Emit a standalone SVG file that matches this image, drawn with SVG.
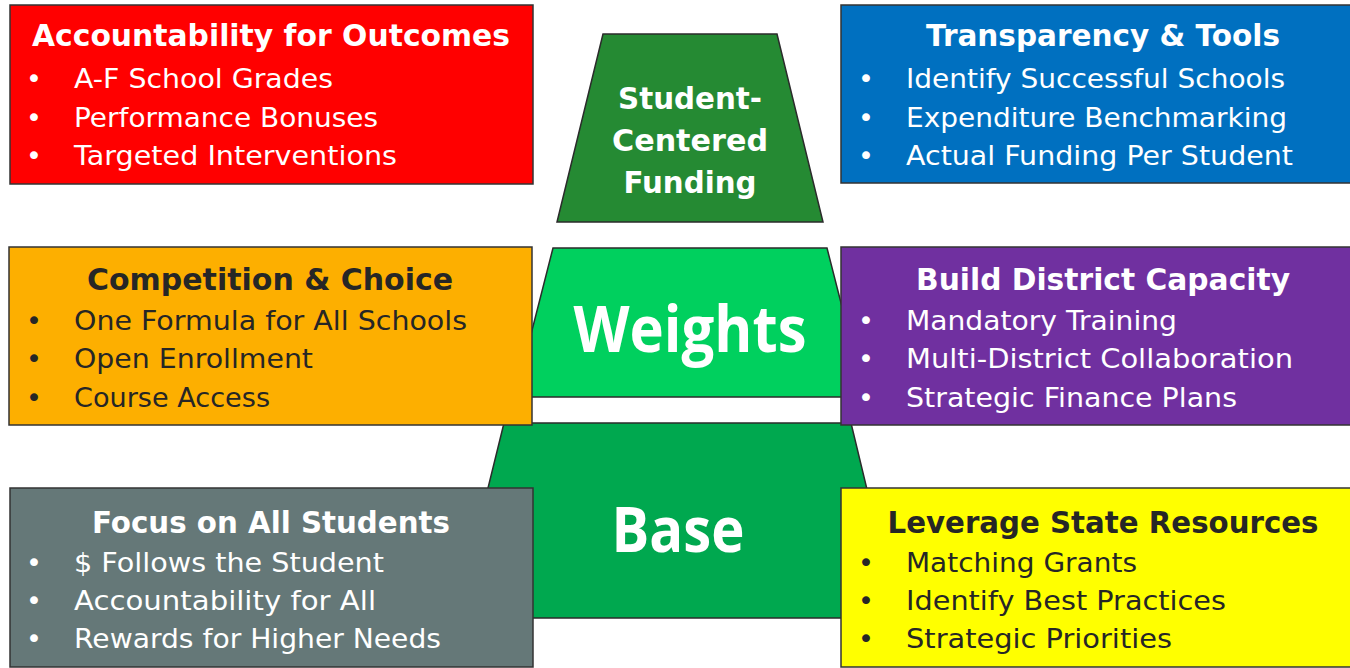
<svg xmlns="http://www.w3.org/2000/svg" width="1350" height="668" viewBox="0 0 1350 668">
<style>
.box{stroke:#333;stroke-width:1.5}
.trap{stroke:#2b2b2b;stroke-width:1.5}
text{font-family:"DejaVu Sans","Liberation Sans",sans-serif}
.h{font-size:30px;font-weight:bold;text-anchor:middle}
.b{font-size:27px}
.bu{font-size:27px;text-anchor:middle}
.c{font-weight:bold;fill:#fff;text-anchor:middle}
.big{font-family:"Open Sans","DejaVu Sans",sans-serif}
.w{fill:#fff}
.d{fill:#262626}
</style>
<rect width="1350" height="668" fill="#fff"/>
<g id="connectors"></g>
<g id="student-centered-funding">
<polygon class="trap" points="603,34 777,34 823,222 557,222" fill="#258A33"/>
<text class="c" font-size="31" x="690" y="109" textLength="144" lengthAdjust="spacingAndGlyphs">Student-</text>
<text class="c" font-size="31" x="690" y="151" textLength="156" lengthAdjust="spacingAndGlyphs">Centered</text>
<text class="c" font-size="31" x="690" y="193" textLength="133" lengthAdjust="spacingAndGlyphs">Funding</text>
</g>
<g id="weights">
<polygon class="trap" points="553,248 827,248 865,397 515,397" fill="#00D05E"/>
<text class="c big" font-size="64" x="690" y="352" textLength="233" lengthAdjust="spacingAndGlyphs">Weights</text>
</g>
<g id="base">
<polygon class="trap" points="504,423 851,423 898,618 456,618" fill="#00A84F"/>
<text class="c big" font-size="62" x="678" y="552" textLength="133" lengthAdjust="spacingAndGlyphs">Base</text>
</g>
<g id="accountability">
<rect class="box" x="10" y="5" width="523" height="179" fill="#FF0000"/>
<g class="w">
<text class="h" x="271" y="46" textLength="478" lengthAdjust="spacingAndGlyphs">Accountability for Outcomes</text>
<text class="bu" x="34" y="88">•</text><text class="b" x="74" y="88" textLength="259" lengthAdjust="spacingAndGlyphs">A-F School Grades</text>
<text class="bu" x="34" y="127">•</text><text class="b" x="74" y="127" textLength="304" lengthAdjust="spacingAndGlyphs">Performance Bonuses</text>
<text class="bu" x="34" y="165">•</text><text class="b" x="74" y="165" textLength="323" lengthAdjust="spacingAndGlyphs">Targeted Interventions</text>
</g>
</g>
<g id="transparency">
<rect class="box" x="841" y="5" width="524" height="178" fill="#0070C0"/>
<g class="w">
<text class="h" x="1103" y="46" textLength="354" lengthAdjust="spacingAndGlyphs">Transparency &amp; Tools</text>
<text class="bu" x="866" y="88">•</text><text class="b" x="906" y="88" textLength="379" lengthAdjust="spacingAndGlyphs">Identify Successful Schools</text>
<text class="bu" x="866" y="127">•</text><text class="b" x="906" y="127" textLength="381" lengthAdjust="spacingAndGlyphs">Expenditure Benchmarking</text>
<text class="bu" x="866" y="165">•</text><text class="b" x="906" y="165" textLength="387" lengthAdjust="spacingAndGlyphs">Actual Funding Per Student</text>
</g>
</g>
<g id="competition">
<rect class="box" x="9" y="247" width="523" height="178" fill="#FDAF00"/>
<g class="d">
<text class="h" x="270" y="290" textLength="366" lengthAdjust="spacingAndGlyphs">Competition &amp; Choice</text>
<text class="bu" x="34" y="330">•</text><text class="b" x="74" y="330" textLength="393" lengthAdjust="spacingAndGlyphs">One Formula for All Schools</text>
<text class="bu" x="34" y="368">•</text><text class="b" x="74" y="368" textLength="239" lengthAdjust="spacingAndGlyphs">Open Enrollment</text>
<text class="bu" x="34" y="407">•</text><text class="b" x="74" y="407" textLength="196" lengthAdjust="spacingAndGlyphs">Course Access</text>
</g>
</g>
<g id="capacity">
<rect class="box" x="841" y="247" width="524" height="178" fill="#7030A0"/>
<g class="w">
<text class="h" x="1103" y="290" textLength="374" lengthAdjust="spacingAndGlyphs">Build District Capacity</text>
<text class="bu" x="866" y="330">•</text><text class="b" x="906" y="330" textLength="271" lengthAdjust="spacingAndGlyphs">Mandatory Training</text>
<text class="bu" x="866" y="368">•</text><text class="b" x="906" y="368" textLength="387" lengthAdjust="spacingAndGlyphs">Multi-District Collaboration</text>
<text class="bu" x="866" y="407">•</text><text class="b" x="906" y="407" textLength="331" lengthAdjust="spacingAndGlyphs">Strategic Finance Plans</text>
</g>
</g>
<g id="focus">
<rect class="box" x="10" y="488" width="523" height="179" fill="#657878"/>
<g class="w">
<text class="h" x="271" y="533" textLength="358" lengthAdjust="spacingAndGlyphs">Focus on All Students</text>
<text class="bu" x="34" y="572">•</text><text class="b" x="74" y="572" textLength="310" lengthAdjust="spacingAndGlyphs">$ Follows the Student</text>
<text class="bu" x="34" y="610">•</text><text class="b" x="74" y="610" textLength="302" lengthAdjust="spacingAndGlyphs">Accountability for All</text>
<text class="bu" x="34" y="648">•</text><text class="b" x="74" y="648" textLength="367" lengthAdjust="spacingAndGlyphs">Rewards for Higher Needs</text>
</g>
</g>
<g id="leverage">
<rect class="box" x="841" y="488" width="524" height="179" fill="#FFFF00"/>
<g class="d">
<text class="h" x="1103" y="533" textLength="431" lengthAdjust="spacingAndGlyphs">Leverage State Resources</text>
<text class="bu" x="866" y="572">•</text><text class="b" x="906" y="572" textLength="231" lengthAdjust="spacingAndGlyphs">Matching Grants</text>
<text class="bu" x="866" y="610">•</text><text class="b" x="906" y="610" textLength="320" lengthAdjust="spacingAndGlyphs">Identify Best Practices</text>
<text class="bu" x="866" y="648">•</text><text class="b" x="906" y="648" textLength="266" lengthAdjust="spacingAndGlyphs">Strategic Priorities</text>
</g>
</g>
</svg>
